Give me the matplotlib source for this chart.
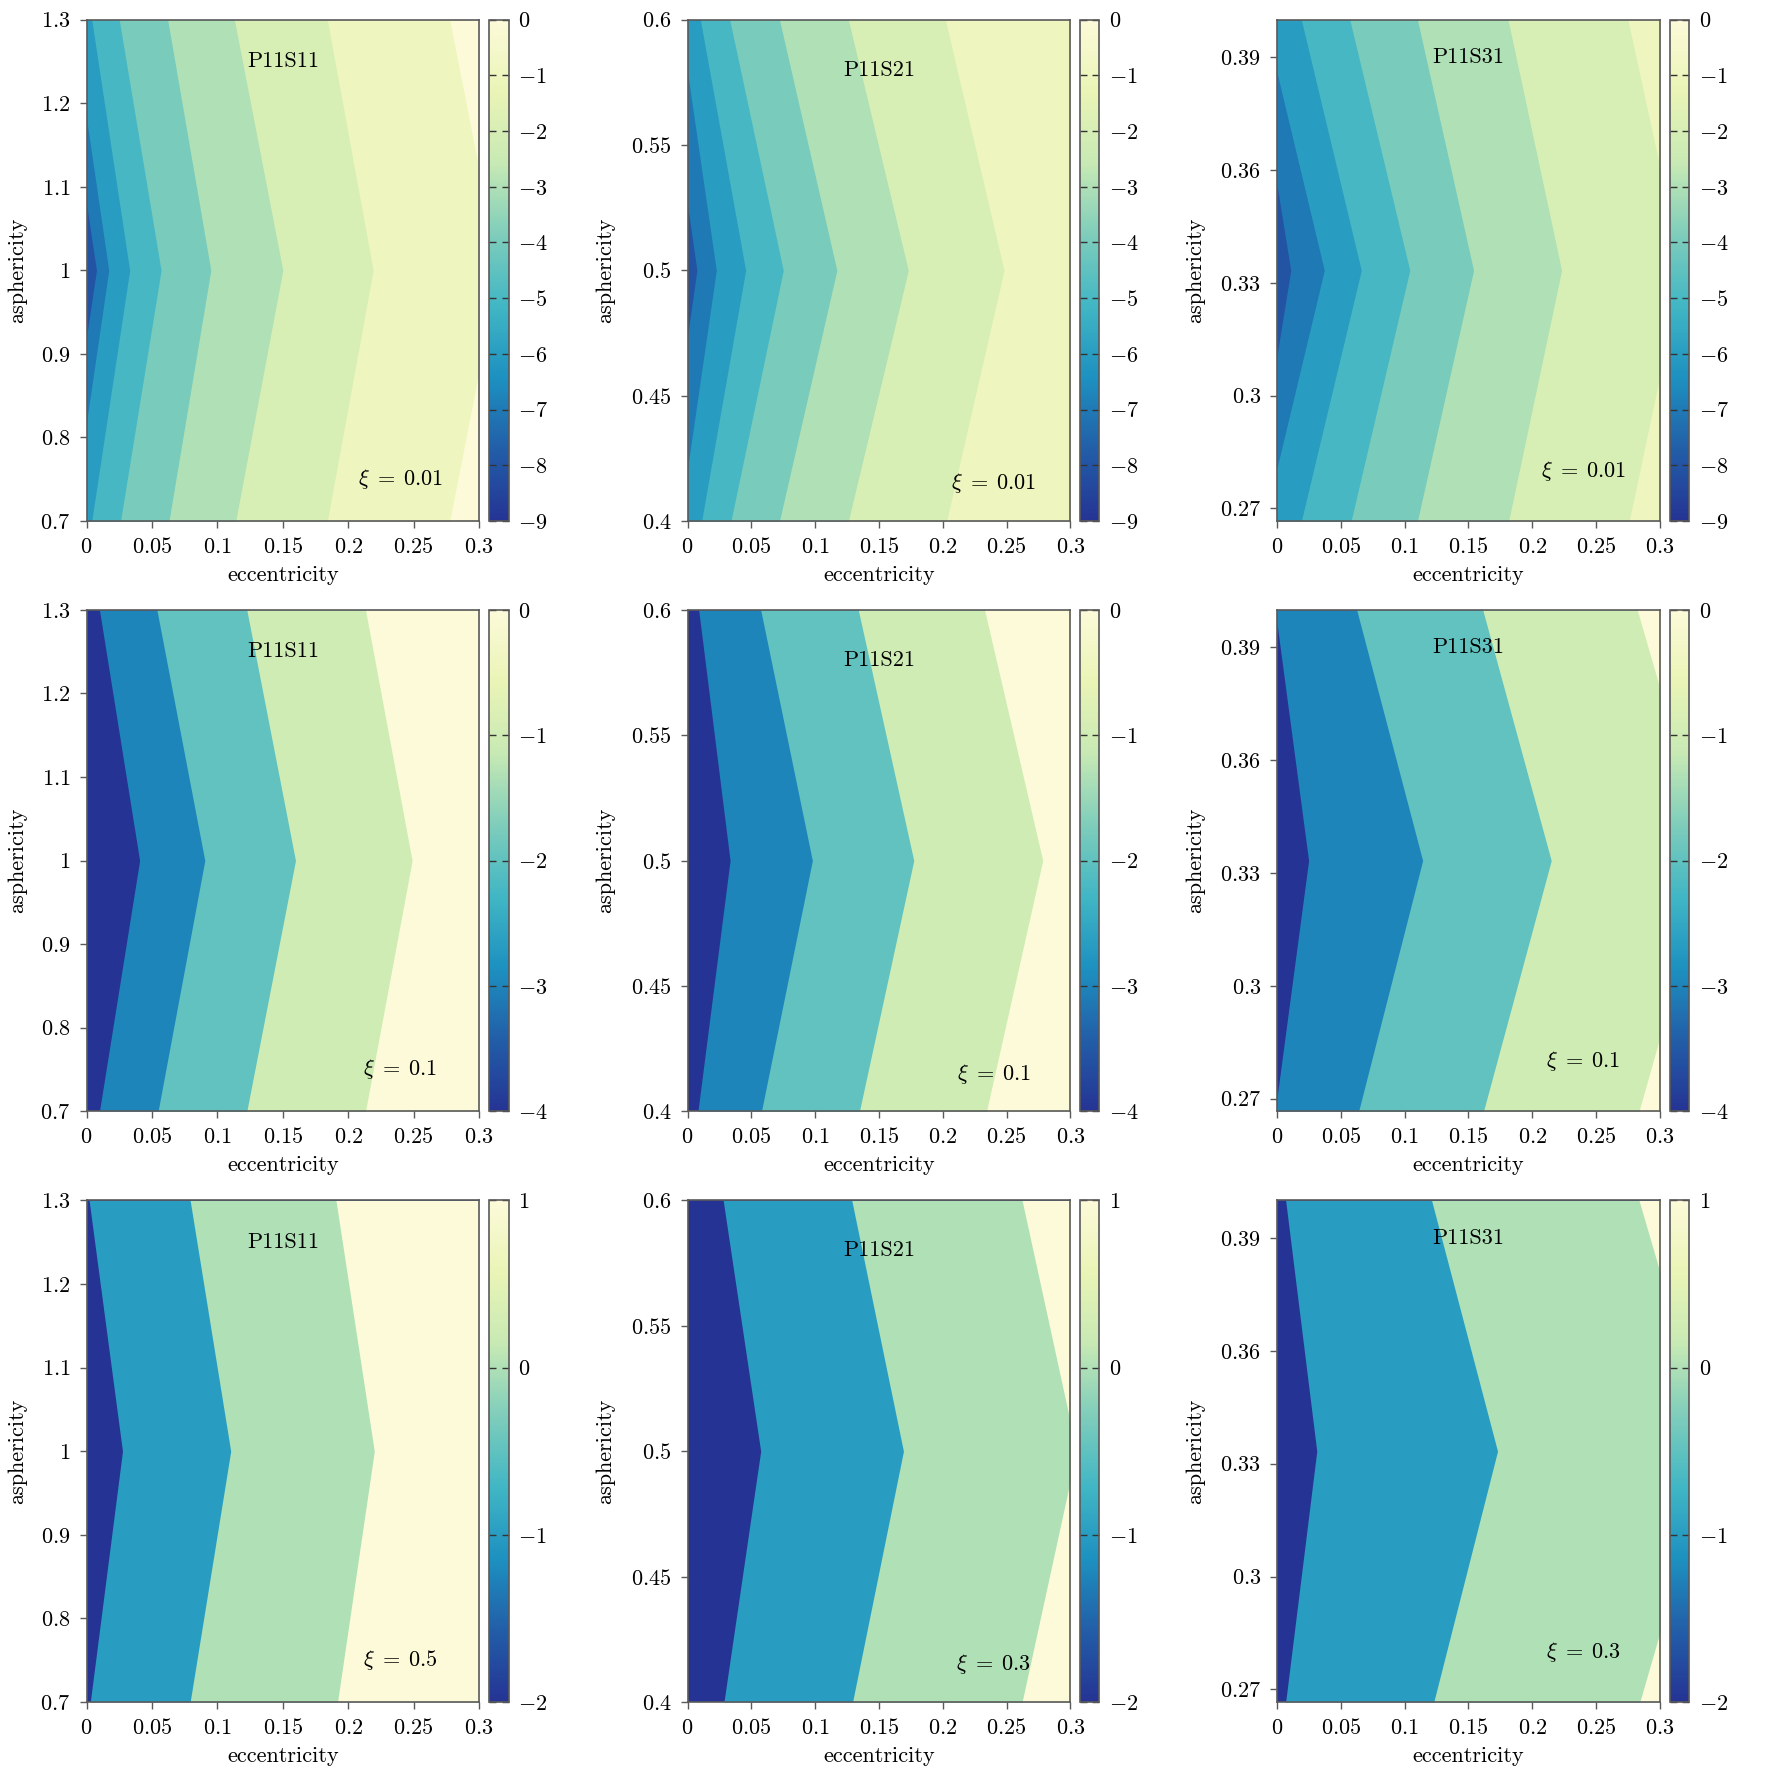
#Contour maps of the P11 ratios over eccentricity and asphericity
import numpy as np
import matplotlib
matplotlib.use('Agg')
import matplotlib.pyplot as plt
from matplotlib.colors import LinearSegmentedColormap, Normalize
from matplotlib.cm import ScalarMappable
from matplotlib.ticker import FuncFormatter

plt.rcParams['font.family'] = 'serif'
plt.rcParams['font.serif'] = ['cmr10']
plt.rcParams['mathtext.fontset'] = 'cm'
plt.rcParams['axes.formatter.use_mathtext'] = True
plt.rcParams['font.size'] = 8

#pgfplots YlGnBu colormap
cmap = LinearSegmentedColormap.from_list('ylgnbu', ['#253494', '#225ea8', '#1d91c0', '#41b6c4',
                                                   '#7fcdbb', '#c7e9b4', '#eaf4b6', '#fcfad9'])

#Column settings
names = ['P11S11', 'P11S21', 'P11S31']
ylims = [(0.7, 1.3), (0.4, 0.6), (0.8/3, 0.4)]
ymids = [1.0, 0.5, 1/3.]
yticks = [[0.7, 0.8, 0.9, 1.0, 1.1, 1.2, 1.3],
          [0.4, 0.45, 0.5, 0.55, 0.6],
          [0.27, 0.3, 0.33, 0.36, 0.39]]
ytext_top = [1.25, 0.58, 0.39]
ytext_bot = [0.75, 0.415, 0.28]
xticks = [0, 0.05, 0.1, 0.15, 0.2, 0.25, 0.3]

#Row settings
xi = [['0.01', '0.01', '0.01'], ['0.1', '0.1', '0.1'], ['0.5', '0.3', '0.3']]
crange = [(-9, 0), (-4, 0), (-2, 1)]

#Band levels and level boundaries (eccentricity at top, middle and bottom asphericity)
levels = [[[-8, -7, -6, -5, -4, -3, -2, -1, 0], [-8, -7, -6, -5, -4, -3, -2, -1], [-8, -7, -6, -5, -4, -3, -2, -1]],
          [[-4, -3, -2, -1, 0], [-4, -3, -2, -1, 0], [-4, -3, -2, -1, 0]],
          [[-2, -1, 0, 1], [-2, -1, 0, 1], [-2, -1, 0, 1]]]
b_top = [[[-0.021, -0.011, 0.004, 0.025, 0.062, 0.113, 0.184, 0.2775],
          [-0.021, -0.006, 0.010, 0.033, 0.072, 0.126, 0.202],
          [-0.021, -0.010, 0.019, 0.057, 0.110, 0.181, 0.275]],
         [[0.0099, 0.0538, 0.1225, 0.2132],
          [0.0087, 0.0573, 0.1338, 0.2328],
          [-0.0015, 0.0624, 0.1612, 0.2823]],
         [[0.002, 0.0792, 0.1906],
          [0.0279, 0.1287, 0.2622],
          [0.0067, 0.1211, 0.2837]]]
b_mid = [[[0.0076, 0.017, 0.033, 0.057, 0.095, 0.150, 0.219, 0.315],
          [0.0073, 0.0225, 0.0455, 0.075, 0.117, 0.173, 0.248],
          [0.0107, 0.037, 0.066, 0.104, 0.154, 0.223, 0.3175]],
         [[0.0406, 0.0904, 0.1597, 0.2488],
          [0.0333, 0.0978, 0.1773, 0.2784],
          [0.0247, 0.1141, 0.2149, 0.3393]],
         [[0.0275, 0.1102, 0.2199],
          [0.0573, 0.1692, 0.305],
          [0.0311, 0.1728, 0.3412]]]
b_bot = [[[-0.021, -0.011, 0.004, 0.026, 0.063, 0.114, 0.184, 0.2775],
          [-0.021, -0.006, 0.011, 0.034, 0.072, 0.126, 0.203],
          [-0.021, -0.010, 0.019, 0.058, 0.110, 0.1815, 0.276]],
         [[0.0099, 0.0547, 0.1225, 0.2132],
          [0.0081, 0.0579, 0.1347, 0.2343],
          [-0.0015, 0.0639, 0.1618, 0.2837]],
         [[0.0029, 0.0792, 0.1918],
          [0.0285, 0.1293, 0.2622],
          [0.0067, 0.1228, 0.2843]]]

#Layout in pixels of the 1771x1771 figure
S = 1771.
cols = [(86.5, 479.1), (687.6, 1070.3), (1277.1, 1659.8)]
cbcols = [(488.7, 509.0), (1079.5, 1099.4), (1669.8, 1689.4)]
rows = [(19.7, 521.0), (609.9, 1111.2), (1200.4, 1702.0)]
ylab_x = [-0.152, -0.19, -0.188]

fig = plt.figure(figsize=(S/200., S/200.), dpi=200)
gray = '#5a5a5a'
numfmt = FuncFormatter(lambda v, p: '$%g$' % round(v, 4))

for i in range(3):
    vmin, vmax = crange[i]
    norm = Normalize(vmin, vmax)
    for j in range(3):
        l, r = cols[j]
        t, b = rows[i]
        ax = fig.add_axes([l/S, 1-b/S, (r-l)/S, (b-t)/S])
        y0, y1 = ylims[j]
        yy = [y0, ymids[j], y1]
        lev = levels[i][j]
        for k in range(len(lev)):
            if k == 0:
                xl = [-1., -1., -1.]
            else:
                xl = [b_bot[i][j][k-1], b_mid[i][j][k-1], b_top[i][j][k-1]]
            ax.fill_betweenx(yy, xl, [1., 1., 1.], color=cmap(norm(lev[k])), linewidth=0)
        ax.set_xlim(0, 0.3)
        ax.set_ylim(y0, y1)
        ax.set_xticks(xticks)
        ax.set_yticks(yticks[j])
        ax.xaxis.set_major_formatter(numfmt)
        ax.yaxis.set_major_formatter(numfmt)
        ax.tick_params(direction='out', length=2.6, width=0.5, color=gray, pad=3.2, labelsize=8)
        for s in ax.spines.values():
            s.set_color(gray)
            s.set_linewidth(0.6)
        ax.set_xlabel('eccentricity')
        ax.xaxis.set_label_coords(0.5, -0.088)
        ax.set_ylabel('asphericity')
        ax.yaxis.set_label_coords(ylab_x[j], 0.5)
        ax.text(0.15, ytext_top[j], names[j], ha='center', va='center')
        ax.text(0.24, ytext_bot[j], r'$\xi\;=\;%s$' % xi[i][j], ha='center', va='center')

        #colorbar
        cl, cr = cbcols[j]
        cax = fig.add_axes([cl/S, 1-b/S, (cr-cl)/S, (b-t)/S])
        cb = fig.colorbar(ScalarMappable(norm=norm, cmap=cmap), cax=cax,
                          ticks=np.arange(vmin, vmax+1))
        cb.outline.set_edgecolor(gray)
        cb.outline.set_linewidth(0.6)
        cax.yaxis.set_major_formatter(FuncFormatter(lambda v, p: '$%d$' % v))
        cax.minorticks_off()
        cax.tick_params(direction='in', length=2.5, width=0.5, color='#333333',
                        left=True, right=True, pad=3.4, labelsize=8)

fig.savefig('out.png', dpi=200)
